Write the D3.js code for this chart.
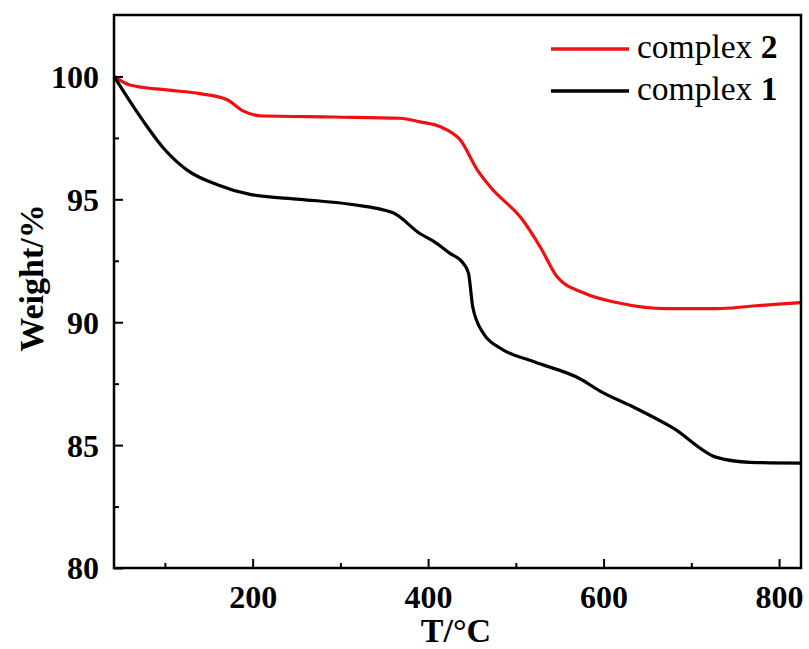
<!DOCTYPE html>
<html>
<head>
<meta charset="utf-8">
<script src="https://cdn.jsdelivr.net/npm/d3@7"></script>
<style>
  body { margin: 0; background: #fff; }
  svg { display: block; font-family: "Liberation Serif", "Times New Roman", serif; }
</style>
</head>
<body>
<div id="chart"></div>
<script>
// temperature (°C) and weight (%)
const tempC1 = [42, 75, 98, 125, 159, 197, 254, 311, 360, 391, 406, 425, 440, 446, 451, 463, 482, 520, 573, 596, 634, 679, 729, 767, 824];
const weightC1 = [100.0, 98.2, 97.1, 96.2, 95.6, 95.2, 95.0, 94.8, 94.45, 93.6, 93.3, 92.8, 92.4, 92.0, 90.6, 89.55, 88.95, 88.4, 87.7, 87.2, 86.55, 85.7, 84.5, 84.3, 84.27];

const tempC2 = [42, 60, 102, 140, 171, 189, 208, 292, 368, 391, 414, 437, 456, 471, 508, 528, 547, 577, 615, 672, 729, 767, 824];
const weightC2 = [100.0, 99.65, 99.45, 99.3, 99.05, 98.6, 98.4, 98.35, 98.3, 98.15, 97.95, 97.4, 96.2, 95.5, 94.15, 93.05, 91.85, 91.2, 90.8, 90.55, 90.55, 90.65, 90.8];

const xTicks = [200, 400, 600, 800];
const yTicks = [80, 85, 90, 95, 100];
const seriesNames = ["complex ", "complex "];
const seriesNums = ["2", "1"];

const width = 809, height = 649;
const margin = { top: 15, right: 8, bottom: 81, left: 114 };

const svg = d3.select("#chart").append("svg")
    .attr("width", width)
    .attr("height", height);

const x = d3.scaleLinear().domain([42, 825]).range([margin.left, width - margin.right]);
const y = d3.scaleLinear().domain([80, 102.5]).range([height - margin.bottom, margin.top]);

const line = d3.line()
    .x(d => x(d[0]))
    .y(d => y(d[1]))
    .curve(d3.curveMonotoneX);

const c1 = tempC1.map((t, i) => [t, weightC1[i]]);
const c2 = tempC2.map((t, i) => [t, weightC2[i]]);

svg.append("path").datum(c2)
    .attr("fill", "none").attr("stroke", "#ee1111").attr("stroke-width", 3.2)
    .attr("d", line);
svg.append("path").datum(c1)
    .attr("fill", "none").attr("stroke", "#000").attr("stroke-width", 3.2)
    .attr("d", line);

// axes with inward ticks
const xAxis = svg.append("g").attr("transform", `translate(0,${height - margin.bottom})`)
    .call(d3.axisBottom(x).tickValues(xTicks).tickSize(-9).tickPadding(17).tickFormat(d3.format("d")));
const xMinor = svg.append("g").attr("transform", `translate(0,${height - margin.bottom})`)
    .call(d3.axisBottom(x).tickValues([100, 300, 500, 700]).tickSize(-5).tickFormat(""));
const yAxis = svg.append("g").attr("transform", `translate(${margin.left},0)`)
    .call(d3.axisLeft(y).tickValues(yTicks).tickSize(-9).tickPadding(15).tickFormat(d3.format("d")));
const yMinor = svg.append("g").attr("transform", `translate(${margin.left},0)`)
    .call(d3.axisLeft(y).tickValues([82.5, 87.5, 92.5, 97.5]).tickSize(-5).tickFormat(""));

[xAxis, xMinor, yAxis, yMinor].forEach(g => {
    g.select(".domain").remove();
    g.selectAll(".tick line").attr("stroke", "#000").attr("stroke-width", 2);
    g.selectAll("text")
        .attr("fill", "#000")
        .style("font-family", "'Liberation Serif', 'Times New Roman', serif")
        .style("font-size", "32px")
        .style("font-weight", "bold");
});
xAxis.selectAll("text").attr("dy", "0.71em");
yAxis.selectAll("text").attr("dy", "0.34em");

// frame
svg.append("rect")
    .attr("x", margin.left).attr("y", margin.top)
    .attr("width", width - margin.left - margin.right)
    .attr("height", height - margin.top - margin.bottom)
    .attr("fill", "none").attr("stroke", "#000").attr("stroke-width", 2.5);

// axis titles
svg.append("text")
    .attr("x", 456).attr("y", 642)
    .attr("text-anchor", "middle")
    .style("font-size", "34px").style("font-weight", "bold")
    .text("T/°C");
svg.append("text")
    .attr("transform", "translate(43,278) rotate(-90)")
    .attr("text-anchor", "middle")
    .style("font-size", "34px").style("font-weight", "bold")
    .text("Weight/%");

// legend
const legColors = ["#ee1111", "#000"];
const legY = [49, 91];
seriesNames.forEach((name, i) => {
    svg.append("line")
        .attr("x1", 551).attr("x2", 629)
        .attr("y1", legY[i]).attr("y2", legY[i])
        .attr("stroke", legColors[i]).attr("stroke-width", 3.5);
    const t = svg.append("text")
        .attr("x", 637).attr("y", legY[i] + 9)
        .style("font-size", "33.5px");
    t.append("tspan").text(name);
    t.append("tspan").style("font-weight", "bold").text(seriesNums[i]);
});
</script>
</body>
</html>
